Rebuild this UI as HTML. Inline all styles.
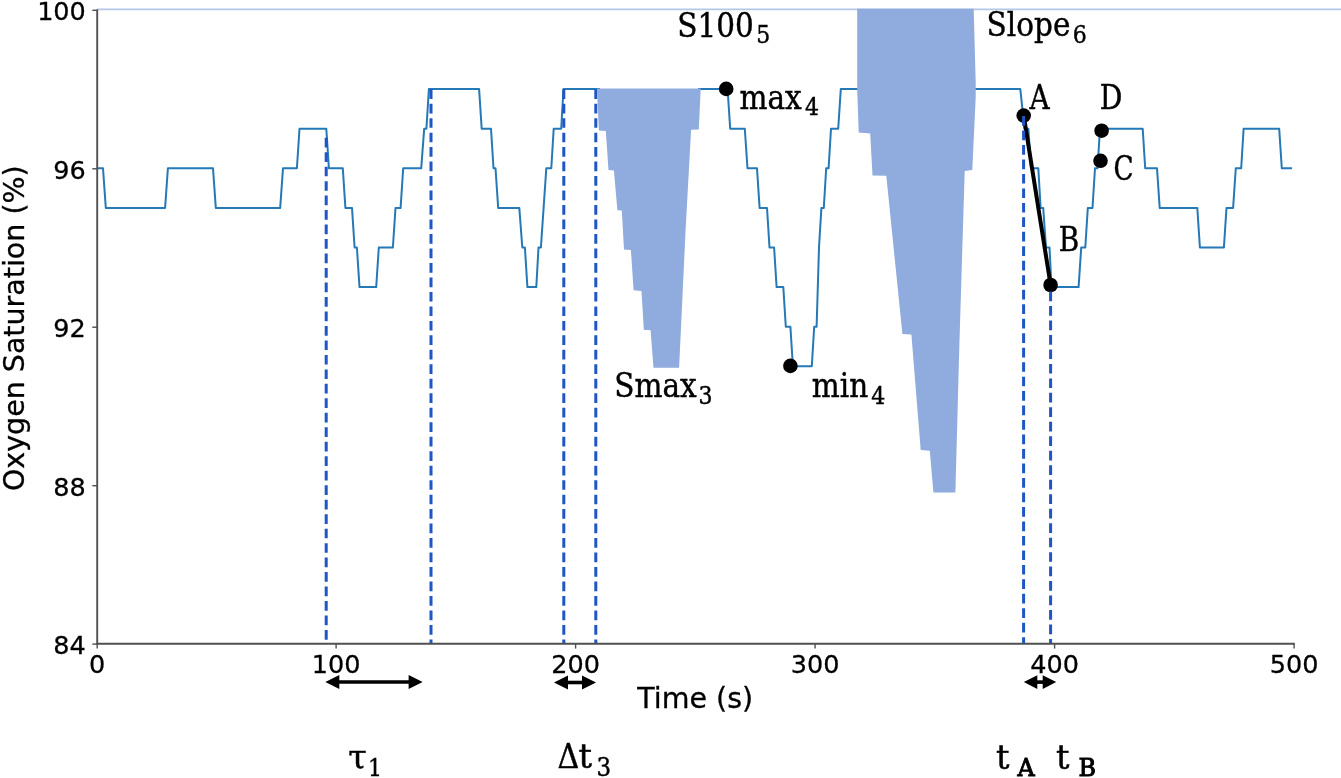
<!DOCTYPE html>
<html lang="en"><head><meta charset="utf-8"><title>Oxygen Saturation</title>
<style>html,body{margin:0;padding:0;background:#fff}body{width:1341px;height:778px;overflow:hidden}svg{display:block}</style>
</head><body>
<svg width="1341" height="778" viewBox="0 0 1341 778">
<style>
text{fill:#000}
.t{font-family:'DejaVu Sans','Liberation Sans',sans-serif;font-size:25.5px;stroke:#000;stroke-width:0.3px}
.a{font-family:'DejaVu Sans','Liberation Sans',sans-serif;font-size:28.5px;stroke:#000;stroke-width:0.3px}
.m{font-family:'DejaVu Serif','Liberation Serif',serif;stroke:#000;stroke-width:0.45px}
.m2{font-family:'DejaVu Serif','Liberation Serif',serif;stroke:#000;stroke-width:0.5px}
.m3{font-family:'DejaVu Serif','Liberation Serif',serif;stroke:#000;stroke-width:0.95px}
</style>
<rect width="1341" height="778" fill="#fff"/>
<line x1="97" y1="9.4" x2="1341" y2="9.4" stroke="#b4c7e7" stroke-width="1.7"/>
<polyline points="97.5,168.3 103.0,168.3 105.8,207.9 165.1,207.9 167.9,168.3 213.0,168.3 215.8,207.9 280.2,207.9 283.0,168.3 296.9,168.3 299.5,128.7 326.3,128.7 328.9,168.3 342.8,168.3 345.4,207.9 352.0,207.9 354.6,247.5 356.9,247.5 359.5,287.1 376.2,287.1 378.8,247.5 392.9,247.5 395.5,207.9 400.6,207.9 403.2,168.3 421.2,168.3 424.2,128.7 426.4,128.7 428.9,89.1 479.1,89.1 481.7,128.7 491.0,128.7 493.5,168.3 495.5,168.3 498.2,207.9 519.3,207.9 522.3,247.5 524.9,247.5 527.4,287.1 536.3,287.1 538.5,247.5 540.9,247.5 543.6,207.9 546.3,168.3 551.3,168.3 553.7,128.7 561.2,128.7 563.5,89.1 600,89.1" fill="none" stroke="#2579b6" stroke-width="2" stroke-linejoin="round"/>
<polyline points="698,89.1 727.6,89.1 730.2,128.7 744.8,128.7 747.5,168.3 757.0,168.3 759.6,207.9 767.0,207.9 769.5,247.5 774.1,247.5 776.6,287.1 783.3,287.1 785.8,326.7 790.4,326.7 792.9,366.3 811.8,366.3 814.2,326.7 816.6,326.7 819.0,247.5 821.4,207.9 823.8,207.9 826.2,168.3 828.6,168.3 831.0,128.7 838.2,128.7 840.8,89.1 860,89.1" fill="none" stroke="#2579b6" stroke-width="2" stroke-linejoin="round"/>
<polyline points="972,89.1 1020.3,89.1 1024.5,128.7 1028.4,128.7 1031.0,168.3 1038.3,168.3 1040.6,207.9 1043.2,207.9 1046.0,247.5 1049.5,247.5 1051.5,287.1 1078.6,287.1 1081.2,247.5 1085.3,247.5 1087.8,207.9 1092.5,207.9 1095.0,168.3 1097.5,168.3 1100.0,128.7 1142.7,128.7 1145.2,168.3 1157.0,168.3 1159.7,207.9 1197.3,207.9 1199.9,247.5 1223.9,247.5 1226.5,207.9 1233.1,207.9 1235.8,168.3 1241.2,168.3 1243.6,128.7 1279.2,128.7 1281.8,168.3 1292.1,168.3" fill="none" stroke="#2579b6" stroke-width="2" stroke-linejoin="round"/>
<line x1="326.2" y1="137.7" x2="326.2" y2="643.0" stroke="#1f55c4" stroke-width="3" stroke-dasharray="9.7 4.78"/>
<line x1="431.0" y1="89.2" x2="431.0" y2="643.0" stroke="#1f55c4" stroke-width="3" stroke-dasharray="9.7 4.78"/>
<line x1="563.8" y1="89.2" x2="563.8" y2="643.0" stroke="#1f55c4" stroke-width="3" stroke-dasharray="9.7 4.78"/>
<line x1="595.8" y1="89.2" x2="595.8" y2="643.0" stroke="#1f55c4" stroke-width="3" stroke-dasharray="9.7 4.78"/>
<polygon points="596.9,88.5 598.9,130.5 605.8,131.0 608.5,169.9 613.9,170.4 617.4,210.2 621.8,210.6 624.0,249.5 630.9,250.0 633.6,290.3 641.5,290.9 643.8,329.8 650.6,330.3 653.5,367.7 679.1,367.7 685.7,228 691.1,129.8 698.8,129.4 700.7,88.5" fill="#90abdd"/>
<polygon points="857.2,8.8 857.2,90 858.7,132.4 870.2,133.4 872.5,175.6 886.3,175.8 902.4,333.9 911.4,334.4 920.7,450 929.8,450.7 933.4,492.4 955.4,492.4 959.3,347 964.7,171 972.3,170 975.7,97 975.7,83 973.7,8.8" fill="#90abdd"/>
<line x1="97.2" y1="9.6" x2="97.2" y2="644.7" stroke="#505050" stroke-width="1.9"/>
<line x1="96.3" y1="643.8" x2="1294.8" y2="643.8" stroke="#505050" stroke-width="1.9"/>
<line x1="92.3" y1="644.0999999999999" x2="97.2" y2="644.0999999999999" stroke="#505050" stroke-width="1.4"/>
<text x="85.8" y="654.0" text-anchor="end" class="t">84</text>
<line x1="92.3" y1="485.7" x2="97.2" y2="485.7" stroke="#505050" stroke-width="1.4"/>
<text x="85.8" y="495.59999999999997" text-anchor="end" class="t">88</text>
<line x1="92.3" y1="327.2" x2="97.2" y2="327.2" stroke="#505050" stroke-width="1.4"/>
<text x="85.8" y="337.09999999999997" text-anchor="end" class="t">92</text>
<line x1="92.3" y1="168.8" x2="97.2" y2="168.8" stroke="#505050" stroke-width="1.4"/>
<text x="85.8" y="178.7" text-anchor="end" class="t">96</text>
<line x1="92.3" y1="10.3" x2="97.2" y2="10.3" stroke="#505050" stroke-width="1.4"/>
<text x="85.8" y="20.2" text-anchor="end" class="t">100</text>
<line x1="97.2" y1="643.8" x2="97.2" y2="648.6" stroke="#505050" stroke-width="1.4"/>
<text x="97.2" y="673.3" text-anchor="middle" class="t">0</text>
<line x1="336.1" y1="643.8" x2="336.1" y2="648.6" stroke="#505050" stroke-width="1.4"/>
<text x="336.1" y="673.3" text-anchor="middle" class="t">100</text>
<line x1="575.6" y1="643.8" x2="575.6" y2="648.6" stroke="#505050" stroke-width="1.4"/>
<text x="575.6" y="673.3" text-anchor="middle" class="t">200</text>
<line x1="815.1" y1="643.8" x2="815.1" y2="648.6" stroke="#505050" stroke-width="1.4"/>
<text x="815.1" y="673.3" text-anchor="middle" class="t">300</text>
<line x1="1054.6" y1="643.8" x2="1054.6" y2="648.6" stroke="#505050" stroke-width="1.4"/>
<text x="1054.6" y="673.3" text-anchor="middle" class="t">400</text>
<line x1="1294.1" y1="643.8" x2="1294.1" y2="648.6" stroke="#505050" stroke-width="1.4"/>
<text x="1294.1" y="673.3" text-anchor="middle" class="t">500</text>
<text x="695.2" y="707.5" text-anchor="middle" class="a">Time (s)</text>
<text transform="translate(24.2,328.2) rotate(-90)" text-anchor="middle" class="a">Oxygen Saturation (%)</text>
<line x1="1023.7" y1="115.6" x2="1050.6" y2="285" stroke="#000" stroke-width="4" stroke-linecap="round"/>
<circle cx="726.2" cy="88.9" r="7.3" fill="#000"/>
<circle cx="790.4" cy="365.9" r="7.3" fill="#000"/>
<circle cx="1023.7" cy="115.6" r="7.3" fill="#000"/>
<circle cx="1050.6" cy="285.0" r="7.3" fill="#000"/>
<circle cx="1100.5" cy="160.8" r="7.3" fill="#000"/>
<circle cx="1101.6" cy="130.7" r="7.3" fill="#000"/>
<line x1="1023.6" y1="116" x2="1023.6" y2="643.0" stroke="#1f55c4" stroke-width="3" stroke-dasharray="9.7 4.78"/>
<line x1="1050.6" y1="291.5" x2="1050.6" y2="643.0" stroke="#1f55c4" stroke-width="3" stroke-dasharray="9.7 4.78"/>
<line x1="338.3" y1="682" x2="409.6" y2="682" stroke="#000" stroke-width="3.6"/><polygon points="325.3,682 339.3,675.1 339.3,688.9" fill="#000"/><polygon points="422.6,682 408.6,675.1 408.6,688.9" fill="#000"/>
<line x1="567.0" y1="682.5" x2="583.0" y2="682.5" stroke="#000" stroke-width="3.6"/><polygon points="554.0,682.5 568.0,675.6 568.0,689.4" fill="#000"/><polygon points="596.0,682.5 582.0,675.6 582.0,689.4" fill="#000"/>
<line x1="1036.3" y1="682.1" x2="1043.7" y2="682.1" stroke="#000" stroke-width="3.6"/><polygon points="1023.8,682.1 1037.3,675.3000000000001 1037.3,688.9" fill="#000"/><polygon points="1056.2,682.1 1042.7,675.3000000000001 1042.7,688.9" fill="#000"/>
<text transform="translate(677.2,36.8) scale(0.9,1)" class="m" font-size="32.8">S100<tspan dx="2.67" dy="6.5" font-size="24.5">5</tspan></text>
<text transform="translate(986.6,36.4) scale(0.9,1)" class="m" font-size="32.8">Slope<tspan dx="2.67" dy="6.5" font-size="24.5">6</tspan></text>
<text transform="translate(739.5,108.7) scale(0.9,1)" class="m" font-size="32.8">max<tspan dx="3.56" dy="6.5" font-size="24.5">4</tspan></text>
<text transform="translate(614.2,397.3) scale(0.9,1)" class="m" font-size="32.8">Smax<tspan dx="2.0" dy="6.5" font-size="24.5">3</tspan></text>
<text transform="translate(811.8,397.3) scale(0.9,1)" class="m" font-size="32.8">min<tspan dx="3.33" dy="6.5" font-size="24.5">4</tspan></text>
<text transform="translate(1029.6,108.6) scale(0.85,1)" class="m" font-size="32.8">A</text>
<text transform="translate(1099.8,108.9) scale(0.86,1)" class="m" font-size="32.8">D</text>
<text transform="translate(1058.8,251) scale(0.85,1)" class="m" font-size="32.8">B</text>
<text transform="translate(1113.4,180.4) scale(0.8,1)" class="m" font-size="32.8">C</text>
<text transform="translate(348.2,768.5) scale(1.02,1)" class="m" font-size="32.8">τ</text>
<text transform="translate(368.0,776) scale(0.9,1)" class="m" font-size="24.5">1</text>
<text transform="translate(557.5,767.7) scale(0.9,1)" class="m" font-size="33.5">Δ</text>
<text x="578.6" y="768.3" class="m2" font-size="33.5">t</text>
<text transform="translate(596.6,776) scale(0.9,1)" class="m" font-size="25.5">3</text>
<text x="996.0" y="768.5" class="m2" font-size="33.5">t</text>
<text x="1017.6" y="776.2" class="m3" font-size="23.8">A</text>
<text x="1056.1" y="768.5" class="m2" font-size="33.5">t</text>
<text x="1078.6" y="776.2" class="m3" font-size="23.8">B</text>
</svg>
</body></html>
